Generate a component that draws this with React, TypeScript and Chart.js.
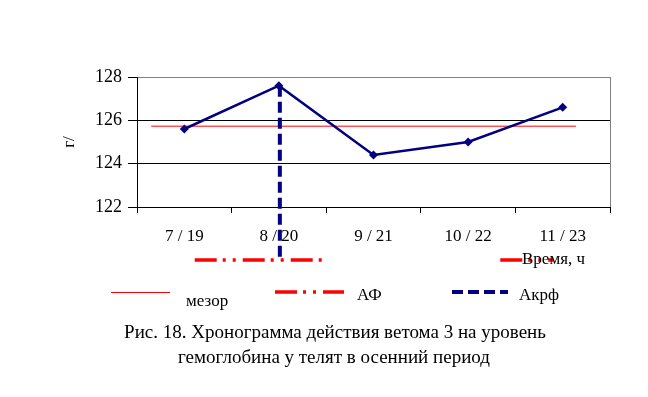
import React, { useEffect, useRef } from 'react';
import { Chart, registerables } from 'chart.js';

Chart.register(...registerables);

// ---- data ----
const categories = ['7 / 19', '8 / 20', '9 / 21', '10 / 22', '11 / 23'];
const hemoglobin = [125.6, 127.6, 124.4, 125.0, 126.6];
const mesorValue = 125.73;
const mesorSpan = [-0.35, 4.14];
const acrophaseX = 1.01;
const acrophaseSpan = [127.6, 119.5];
const afLevel = 119.55;
const afSpan = [0.11, 1.48];
const timeMarkSpan = [3.34, 3.9];
const yMin = 122;
const yMax = 128;
const yStep = 2;
const yTitle = 'г/';
const xTitle = 'Время, ч';
const legendLabels = ['мезор', 'АФ', 'Акрф'];
const captionLines = [
  'Рис. 18. Хронограмма действия ветома 3 на уровень',
  'гемоглобина у телят в осенний период',
];

const FONT = "'Liberation Serif', 'Times New Roman', serif";
const NAVY = '#000080';
const RED = '#ff0000';
const DASH_DOT_DOT = [22, 6, 3, 7, 3, 7];
const DASHED = [11, 5];

const decorPlugin = {
  id: 'decor',
  afterDraw(chart: any) {
    const { ctx, chartArea } = chart;
    ctx.save();
    // right / plot border
    ctx.strokeStyle = '#808080';
    ctx.lineWidth = 1;
    ctx.beginPath();
    ctx.moveTo(Math.round(chartArea.right) + 0.5, chartArea.top);
    ctx.lineTo(Math.round(chartArea.right) + 0.5, chartArea.bottom);
    ctx.stroke();

    ctx.fillStyle = '#000';
    ctx.font = `17px ${FONT}`;
    ctx.textBaseline = 'alphabetic';
    ctx.textAlign = 'left';
    ctx.fillText(xTitle, 522, 264);

    // legend
    const ly = 292;
    ctx.strokeStyle = RED;
    ctx.lineWidth = 1;
    ctx.setLineDash([]);
    ctx.beginPath();
    ctx.moveTo(111, ly + 0.5);
    ctx.lineTo(170, ly + 0.5);
    ctx.stroke();
    ctx.fillText(legendLabels[0], 186, 306);

    ctx.lineWidth = 3.5;
    ctx.setLineDash(DASH_DOT_DOT);
    ctx.beginPath();
    ctx.moveTo(275, ly);
    ctx.lineTo(344, ly);
    ctx.stroke();
    ctx.fillText(legendLabels[1], 357, 300);

    ctx.strokeStyle = NAVY;
    ctx.lineWidth = 4;
    ctx.setLineDash(DASHED);
    ctx.beginPath();
    ctx.moveTo(452, ly);
    ctx.lineTo(508, ly);
    ctx.stroke();
    ctx.setLineDash([]);
    ctx.fillText(legendLabels[2], 519, 300);

    // caption
    ctx.font = `19px ${FONT}`;
    ctx.textAlign = 'center';
    ctx.fillText(captionLines[0], 335, 338);
    ctx.fillText(captionLines[1], 334, 363);
    ctx.restore();
  },
};

export default function App() {
  const ref = useRef<HTMLCanvasElement | null>(null);
  useEffect(() => {
    if (!ref.current) return;
    Chart.defaults.font.family = FONT;
    Chart.defaults.color = '#000';
    const chart = new Chart(ref.current, {
      type: 'line',
      data: {
        labels: categories,
        datasets: [
          {
            label: 'мезор',
            data: mesorSpan.map((x) => ({ x, y: mesorValue })),
            xAxisID: 'x2',
            borderColor: RED,
            borderWidth: 1,
            pointRadius: 0,
            order: 3,
          },
          {
            label: 'АФ',
            data: afSpan.map((x) => ({ x, y: afLevel })),
            xAxisID: 'x2',
            borderColor: RED,
            borderWidth: 3.5,
            borderDash: DASH_DOT_DOT,
            pointRadius: 0,
            clip: false,
            order: 2,
          },
          {
            label: 'time',
            data: timeMarkSpan.map((x) => ({ x, y: afLevel })),
            xAxisID: 'x2',
            borderColor: RED,
            borderWidth: 3.5,
            borderDash: DASH_DOT_DOT,
            pointRadius: 0,
            clip: false,
            order: 2,
          },
          {
            label: 'гемоглобин',
            data: hemoglobin,
            xAxisID: 'x',
            borderColor: NAVY,
            backgroundColor: NAVY,
            borderWidth: 2.5,
            pointStyle: 'rectRot',
            pointRadius: 4.5,
            pointBorderWidth: 0,
            tension: 0,
            order: 1,
          },
          {
            label: 'Акрф',
            data: acrophaseSpan.map((y) => ({ x: acrophaseX, y })),
            xAxisID: 'x2',
            borderColor: NAVY,
            borderWidth: 4,
            borderDash: DASHED,
            pointRadius: 0,
            clip: false,
            order: 0,
          },
        ],
      },
      options: {
        animation: false,
        responsive: false,
        devicePixelRatio: 1,
        layout: { padding: { top: 77, right: 38, bottom: 150, left: 0 } },
        plugins: { legend: { display: false }, tooltip: { enabled: false } },
        scales: {
          x: {
            type: 'category',
            offset: true,
            grid: {
              offset: true,
              drawOnChartArea: false,
              drawTicks: true,
              tickLength: 6,
              color: '#000',
            },
            border: { color: '#000', width: 1 },
            ticks: { font: { size: 17 }, padding: 13, color: '#000', maxRotation: 0 },
            afterFit: (s: any) => {
              s.height = 40;
            },
          },
          x2: {
            type: 'linear',
            display: false,
            min: -0.5,
            max: 4.5,
          },
          y: {
            min: yMin,
            max: yMax,
            ticks: { stepSize: yStep, font: { size: 18 }, padding: 6, color: '#000' },
            grid: {
              color: (c: any) => (c.tick && c.tick.value === yMax ? '#808080' : '#000'),
              tickColor: '#000',
              tickLength: 9,
              lineWidth: 1,
            },
            border: { color: '#000', width: 1 },
            title: {
              display: true,
              text: yTitle,
              font: { size: 17 },
              color: '#000',
              padding: { top: 59, bottom: 0 },
            },
            afterFit: (s: any) => {
              s.width = 137;
            },
          },
        },
      },
      plugins: [decorPlugin],
    } as any);
    return () => chart.destroy();
  }, []);
  return (
    <div style={{ position: 'fixed', left: 0, top: 0, width: 648, height: 397, background: '#fff' }}>
      <canvas ref={ref} width={648} height={397} style={{ width: 648, height: 397 }} />
    </div>
  );
}
